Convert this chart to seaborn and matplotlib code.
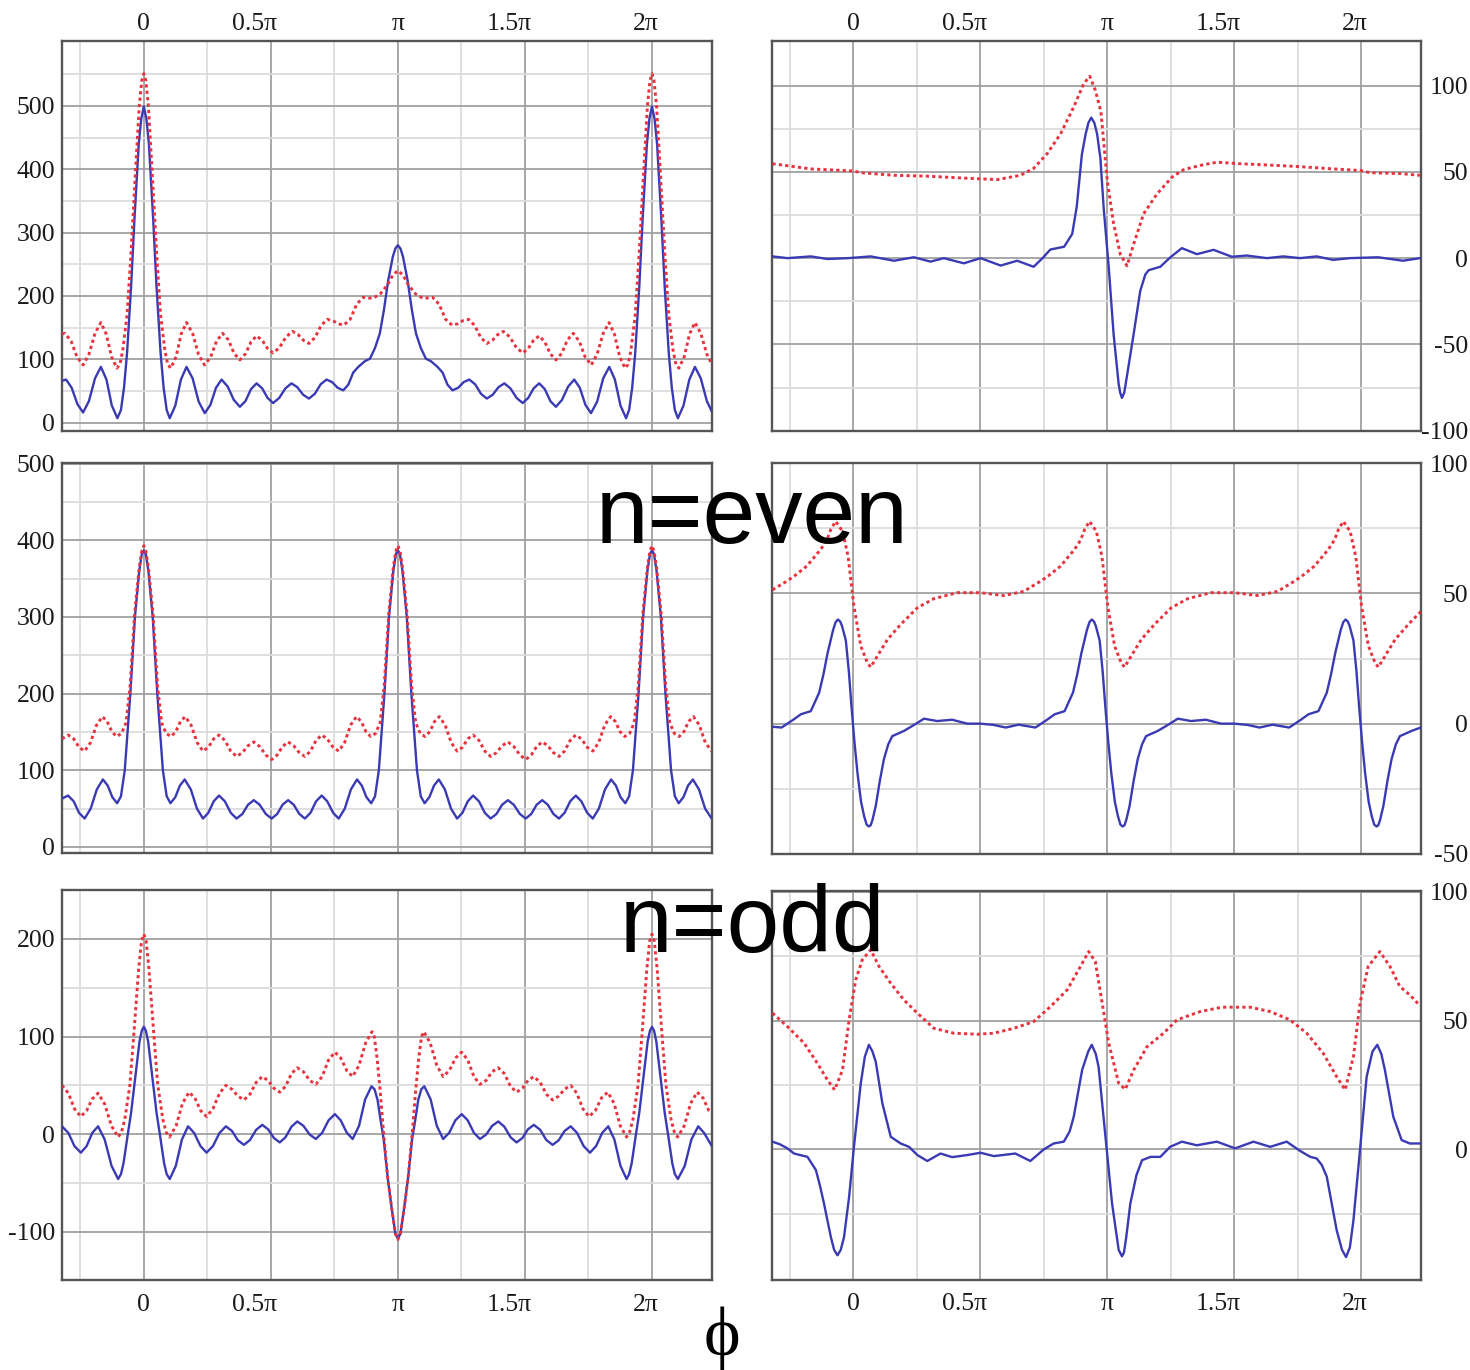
import matplotlib
matplotlib.use("Agg")
import matplotlib.pyplot as plt
import matplotlib.transforms as mtransforms
from matplotlib.ticker import FixedLocator
import seaborn as sns

# ---------------- data (x in units of pi, y values) ----------------
TL_BLUE = [(-0.322, 66), (-0.306, 68), (-0.284, 55), (-0.261, 29), (-0.239, 16), (-0.216, 34), (-0.192, 70),
           (-0.169, 88), (-0.147, 68), (-0.126, 27), (-0.104, 7), (-0.09, 20), (-0.078, 55), (-0.066, 110),
           (-0.05, 215), (-0.037, 320), (-0.02, 440), (-0.01, 480), (0.0, 499), (0.01, 480), (0.02, 440),
           (0.037, 320), (0.05, 215), (0.066, 110), (0.078, 55), (0.09, 20), (0.102, 7), (0.124, 27),
           (0.146, 68), (0.168, 88), (0.192, 70), (0.216, 33), (0.240, 15), (0.262, 28), (0.284, 55),
           (0.306, 68), (0.330, 57), (0.354, 36), (0.378, 25), (0.400, 34), (0.422, 53), (0.444, 62),
           (0.466, 54), (0.487, 39), (0.509, 31), (0.533, 39), (0.557, 54), (0.581, 62), (0.604, 56),
           (0.627, 44), (0.650, 38), (0.673, 45.5), (0.696, 60.5), (0.719, 68), (0.741, 64), (0.763, 55),
           (0.785, 51), (0.805, 60), (0.824, 79), (0.844, 88), (0.870, 97), (0.890, 101), (0.910, 118),
           (0.929, 141), (0.945, 178), (0.962, 225), (0.980, 262), (0.990, 275), (1.000, 280), (1.010, 275),
           (1.020, 262), (1.038, 225), (1.055, 178), (1.071, 141), (1.090, 118), (1.110, 101), (1.130, 97),
           (1.156, 88), (1.176, 79), (1.195, 60), (1.215, 51), (1.237, 55), (1.259, 64), (1.281, 68),
           (1.304, 60.5), (1.327, 45.5), (1.350, 38), (1.373, 44), (1.396, 56), (1.419, 62), (1.443, 54),
           (1.467, 39), (1.491, 31), (1.513, 39), (1.534, 54), (1.556, 62), (1.578, 53), (1.600, 34),
           (1.622, 25), (1.646, 36), (1.670, 57), (1.694, 68), (1.716, 55), (1.738, 28), (1.760, 15),
           (1.784, 33), (1.808, 70), (1.832, 88), (1.854, 68), (1.876, 27), (1.898, 7), (1.910, 20),
           (1.922, 55), (1.934, 110), (1.950, 215), (1.963, 320), (1.980, 440), (1.990, 480), (2.000, 499),
           (2.010, 480), (2.020, 440), (2.037, 320), (2.050, 215), (2.066, 110), (2.078, 55), (2.090, 20),
           (2.102, 7), (2.124, 27), (2.147, 68), (2.169, 88), (2.192, 70), (2.216, 34), (2.235, 18)]

TL_RED = [(-0.322, 140), (-0.310, 141), (-0.286, 128.5), (-0.263, 103.5), (-0.239, 91), (-0.216, 108),
          (-0.192, 141), (-0.169, 158), (-0.148, 140), (-0.127, 104), (-0.106, 86), (-0.094, 92),
          (-0.083, 114), (-0.066, 170), (-0.05, 270), (-0.035, 380), (-0.018, 500), (-0.008, 540),
          (0.0, 551), (0.008, 540), (0.018, 500), (0.035, 380), (0.05, 270), (0.066, 170), (0.083, 114),
          (0.094, 92), (0.106, 86), (0.127, 104), (0.147, 140), (0.168, 158), (0.192, 141), (0.215, 108),
          (0.239, 91), (0.263, 103.5), (0.286, 128.5), (0.310, 141), (0.333, 130.5), (0.355, 109.5),
          (0.378, 99), (0.400, 108.5), (0.422, 127.5), (0.444, 137), (0.466, 130), (0.487, 117),
          (0.509, 110), (0.534, 118.5), (0.560, 135.5), (0.585, 144), (0.607, 139), (0.628, 130),
          (0.650, 125), (0.674, 134.5), (0.698, 153.5), (0.722, 163), (0.744, 161), (0.765, 156),
          (0.787, 154), (0.812, 163), (0.838, 187), (0.864, 198), (0.900, 196), (0.930, 203), (0.960, 218),
          (0.980, 233), (1.000, 240), (1.020, 233), (1.040, 218), (1.070, 203), (1.100, 196), (1.136, 198),
          (1.162, 187), (1.188, 163), (1.213, 154), (1.235, 156), (1.256, 161), (1.278, 163),
          (1.302, 153.5), (1.326, 134.5), (1.350, 125), (1.372, 130), (1.393, 139), (1.415, 144),
          (1.440, 135.5), (1.466, 118.5), (1.491, 110), (1.513, 117), (1.534, 130), (1.556, 137),
          (1.578, 127.5), (1.600, 108.5), (1.622, 99), (1.645, 109.5), (1.667, 130.5), (1.690, 141),
          (1.714, 128.5), (1.737, 103.5), (1.761, 91), (1.784, 108), (1.808, 141), (1.831, 158),
          (1.852, 140), (1.873, 104), (1.894, 86), (1.906, 92), (1.917, 114), (1.934, 170), (1.950, 270),
          (1.965, 380), (1.982, 500), (1.992, 540), (2.000, 551), (2.008, 540), (2.018, 500), (2.035, 380),
          (2.050, 270), (2.066, 170), (2.083, 114), (2.094, 92), (2.106, 86), (2.127, 104), (2.148, 140),
          (2.169, 158), (2.192, 141), (2.216, 108), (2.235, 93)]

ML_BLUE = [(-0.322, 63), (-0.298, 67), (-0.276, 59.5), (-0.255, 44.5), (-0.233, 37), (-0.209, 50),
           (-0.185, 75), (-0.161, 88), (-0.142, 80), (-0.124, 65), (-0.105, 57), (-0.09, 66), (-0.075, 100),
           (-0.064, 150), (-0.053, 200), (-0.035, 300), (-0.018, 360), (-0.008, 382), (0.0, 387),
           (0.008, 382), (0.018, 360), (0.035, 300), (0.053, 200), (0.064, 150), (0.075, 100), (0.09, 66),
           (0.105, 57), (0.124, 65), (0.142, 80), (0.161, 88), (0.185, 75), (0.209, 50), (0.233, 37),
           (0.254, 44.5), (0.275, 59.5), (0.296, 67), (0.319, 59.5), (0.342, 44.5), (0.365, 37), (0.388, 43),
           (0.410, 55), (0.433, 61), (0.456, 55), (0.480, 43), (0.503, 37), (0.525, 43), (0.546, 55),
           (0.568, 61), (0.590, 55), (0.612, 43), (0.634, 37), (0.656, 44.5), (0.678, 59.5), (0.70, 67),
           (0.722, 59.5), (0.745, 44.5), (0.767, 37), (0.791, 50), (0.815, 75), (0.839, 88), (0.858, 80),
           (0.876, 65), (0.895, 57), (0.91, 66), (0.925, 100), (0.936, 150), (0.947, 200), (0.965, 300),
           (0.982, 360), (0.992, 382), (1.0, 387), (1.008, 382), (1.018, 360), (1.035, 300), (1.053, 200),
           (1.064, 150), (1.075, 100), (1.09, 66), (1.105, 57), (1.124, 65), (1.142, 80), (1.161, 88),
           (1.185, 75), (1.209, 50), (1.233, 37), (1.254, 44.5), (1.275, 59.5), (1.296, 67), (1.319, 59.5),
           (1.342, 44.5), (1.365, 37), (1.388, 43), (1.410, 55), (1.433, 61), (1.456, 55), (1.480, 43),
           (1.503, 37), (1.525, 43), (1.546, 55), (1.568, 61), (1.590, 55), (1.612, 43), (1.634, 37),
           (1.656, 44.5), (1.678, 59.5), (1.70, 67), (1.722, 59.5), (1.745, 44.5), (1.767, 37), (1.791, 50),
           (1.815, 75), (1.839, 88), (1.858, 80), (1.876, 65), (1.895, 57), (1.91, 66), (1.925, 100),
           (1.936, 150), (1.947, 200), (1.965, 300), (1.982, 360), (1.992, 382), (2.0, 387), (2.008, 382),
           (2.018, 360), (2.035, 300), (2.053, 200), (2.064, 150), (2.075, 100), (2.09, 66), (2.105, 57),
           (2.124, 65), (2.142, 80), (2.161, 88), (2.185, 75), (2.209, 50), (2.235, 37)]

ML_RED = [(-0.322, 141), (-0.298, 146), (-0.276, 141), (-0.255, 130), (-0.233, 125), (-0.210, 136),
          (-0.186, 159), (-0.163, 170), (-0.144, 163.5), (-0.126, 150.5), (-0.107, 144), (-0.088, 148),
          (-0.07, 162), (-0.054, 210), (-0.036, 305), (-0.018, 365), (-0.008, 386), (0.0, 393), (0.008, 386),
          (0.018, 365), (0.036, 305), (0.054, 210), (0.07, 162), (0.088, 148), (0.107, 144), (0.126, 150.5),
          (0.144, 163.5), (0.163, 170), (0.186, 159), (0.210, 136), (0.233, 125), (0.254, 130), (0.275, 141),
          (0.296, 146), (0.319, 139), (0.342, 125), (0.365, 118), (0.388, 123), (0.410, 132), (0.433, 137),
          (0.456, 131), (0.480, 120), (0.503, 114), (0.525, 120), (0.546, 131), (0.568, 137), (0.590, 132),
          (0.612, 123), (0.634, 118), (0.656, 125), (0.678, 139), (0.70, 146), (0.722, 141), (0.745, 130),
          (0.767, 125), (0.790, 136), (0.814, 159), (0.837, 170), (0.856, 163.5), (0.874, 150.5),
          (0.893, 144), (0.912, 148), (0.93, 162), (0.946, 210), (0.964, 305), (0.982, 365), (0.992, 386),
          (1.0, 393), (1.008, 386), (1.018, 365), (1.036, 305), (1.054, 210), (1.07, 162), (1.088, 148),
          (1.107, 144), (1.126, 150.5), (1.144, 163.5), (1.163, 170), (1.186, 159), (1.210, 136),
          (1.233, 125), (1.254, 130), (1.275, 141), (1.296, 146), (1.319, 139), (1.342, 125), (1.365, 118),
          (1.388, 123), (1.410, 132), (1.433, 137), (1.456, 131), (1.480, 120), (1.503, 114), (1.525, 120),
          (1.546, 131), (1.568, 137), (1.590, 132), (1.612, 123), (1.634, 118), (1.656, 125), (1.678, 139),
          (1.70, 146), (1.722, 141), (1.745, 130), (1.767, 125), (1.790, 136), (1.814, 159), (1.837, 170),
          (1.856, 163.5), (1.874, 150.5), (1.893, 144), (1.912, 148), (1.93, 162), (1.946, 210),
          (1.964, 305), (1.982, 365), (1.992, 386), (2.0, 393), (2.008, 386), (2.018, 365), (2.036, 305),
          (2.054, 210), (2.07, 162), (2.088, 148), (2.107, 144), (2.126, 150.5), (2.144, 163.5),
          (2.163, 170), (2.186, 159), (2.210, 136), (2.235, 125)]

BL_BLUE = [(-0.322, 8), (-0.297, 1.25), (-0.273, -12.25), (-0.248, -19), (-0.225, -12.25), (-0.203, 1.25),
           (-0.18, 8), (-0.154, -5.5), (-0.127, -32.5), (-0.101, -46), (-0.09, -41), (-0.08, -30),
           (-0.063, 0), (-0.05, 22), (-0.035, 55), (-0.017, 95), (-0.008, 106), (0.0, 110), (0.008, 106),
           (0.017, 95), (0.035, 55), (0.05, 22), (0.063, 0), (0.08, -30), (0.09, -41), (0.102, -46),
           (0.126, -32.5), (0.150, -5.5), (0.174, 8), (0.198, 1.25), (0.223, -12.25), (0.247, -19),
           (0.272, -12.25), (0.298, 1.25), (0.323, 8), (0.347, 3.25), (0.370, -6.25), (0.394, -11),
           (0.418, -6), (0.442, 4.4), (0.466, 9.5), (0.489, 5), (0.512, -4), (0.535, -8.5), (0.558, -3.1),
           (0.581, 7.6), (0.604, 13), (0.628, 8.5), (0.653, -0.5), (0.677, -5), (0.702, 1.4), (0.727, 14.1),
           (0.752, 20.5), (0.775, 14.1), (0.799, 1.4), (0.822, -5), (0.847, 8.5), (0.871, 35.5), (0.896, 49),
           (0.908, 46), (0.92, 35), (0.932, 14), (0.944, -5), (0.96, -45), (0.975, -75), (0.99, -102),
           (1.0, -107), (1.01, -102), (1.025, -75), (1.04, -45), (1.056, -5), (1.068, 14), (1.08, 35),
           (1.092, 46), (1.104, 49), (1.129, 35.5), (1.153, 8.5), (1.178, -5), (1.202, 1.4), (1.226, 14.1),
           (1.251, 20.5), (1.275, 14.1), (1.299, 1.4), (1.323, -5), (1.347, -0.5), (1.371, 8.5), (1.395, 13),
           (1.419, 7.6), (1.443, -3.1), (1.467, -8.5), (1.490, -4), (1.512, 5), (1.535, 9.5), (1.560, 4.4),
           (1.584, -6), (1.609, -11), (1.633, -6.25), (1.656, 3.25), (1.68, 8), (1.705, 1.25),
           (1.731, -12.25), (1.756, -19), (1.780, -12.25), (1.804, 1.25), (1.828, 8), (1.852, -5.5),
           (1.876, -32.5), (1.90, -46), (1.91, -41), (1.92, -30), (1.937, 0), (1.95, 22), (1.965, 55),
           (1.983, 95), (1.992, 106), (2.0, 110), (2.008, 106), (2.017, 95), (2.035, 55), (2.05, 22),
           (2.063, 0), (2.08, -30), (2.09, -41), (2.102, -46), (2.129, -32.5), (2.155, -5.5), (2.182, 8),
           (2.205, 1.25), (2.235, -12)]

BL_RED = [(-0.322, 50), (-0.297, 42), (-0.273, 26), (-0.248, 18), (-0.225, 24), (-0.203, 36), (-0.18, 42),
          (-0.154, 30.75), (-0.127, 8.25), (-0.101, -3), (-0.088, 2), (-0.075, 15), (-0.055, 50), (-0.04, 100),
          (-0.02, 170), (-0.009, 198), (0.0, 205), (0.009, 198), (0.02, 170), (0.04, 100), (0.055, 50),
          (0.075, 15), (0.088, 2), (0.101, -3), (0.127, 8.5), (0.152, 31.5), (0.178, 43), (0.201, 37),
          (0.224, 24), (0.247, 18), (0.272, 26), (0.298, 42), (0.323, 50), (0.347, 46), (0.370, 39),
          (0.394, 35), (0.418, 41), (0.442, 53), (0.466, 59), (0.489, 55), (0.512, 47), (0.535, 43),
          (0.558, 49), (0.581, 62), (0.604, 68), (0.628, 64), (0.653, 55), (0.677, 51), (0.702, 59),
          (0.727, 76), (0.752, 84), (0.775, 78), (0.799, 65), (0.822, 59), (0.847, 70.5), (0.873, 93.5),
          (0.898, 105), (0.907, 100), (0.918, 78), (0.93, 45), (0.944, 0), (0.96, -45), (0.975, -75),
          (0.99, -102), (1.0, -108), (1.01, -102), (1.025, -75), (1.04, -45), (1.056, 0), (1.07, 45),
          (1.082, 78), (1.093, 100), (1.102, 105), (1.127, 93.5), (1.153, 70.5), (1.178, 59), (1.202, 65),
          (1.227, 78), (1.251, 84), (1.275, 76), (1.299, 59), (1.323, 51), (1.347, 55), (1.371, 64),
          (1.395, 68), (1.419, 62), (1.443, 49), (1.467, 43), (1.490, 47), (1.512, 55), (1.535, 59),
          (1.560, 53), (1.584, 41), (1.609, 35), (1.633, 39), (1.656, 46), (1.68, 50), (1.704, 42),
          (1.728, 26), (1.752, 18), (1.777, 24), (1.801, 37), (1.826, 43), (1.851, 31.5), (1.875, 8.5),
          (1.90, -3), (1.912, 2), (1.925, 15), (1.945, 50), (1.96, 100), (1.98, 170), (1.991, 198),
          (2.0, 205), (2.009, 198), (2.02, 170), (2.04, 100), (2.055, 50), (2.075, 15), (2.088, 2),
          (2.101, -3), (2.127, 8.5), (2.152, 31.5), (2.178, 43), (2.201, 37), (2.224, 24), (2.235, 22)]

TR_BLUE = [(-0.319, 1), (-0.26, 0), (-0.168, 1), (-0.102, -0.5), (-0.02, 0), (0.068, 1), (0.16, -1.5),
           (0.238, 0.5), (0.304, -2), (0.356, 0), (0.435, -3), (0.501, 0), (0.58, -4.3), (0.645, -1.5),
           (0.71, -5), (0.745, 0), (0.776, 5), (0.83, 6.6), (0.862, 14), (0.88, 30), (0.9, 60),
           (0.915, 72), (0.926, 78.5), (0.937, 81.4), (0.949, 78.5), (0.96, 72), (0.973, 58), (0.986, 29),
           (1.006, -5.5), (1.025, -44), (1.045, -73), (1.051, -78), (1.058, -81), (1.067, -78),
           (1.078, -68), (1.104, -44), (1.13, -19), (1.15, -9.5), (1.163, -7), (1.209, -5), (1.248, 0.4),
           (1.294, 5.8), (1.353, 2.3), (1.419, 4.8), (1.491, 0.8), (1.55, 1.5), (1.629, 0), (1.694, 1),
           (1.76, 0), (1.825, 1), (1.89, -1), (1.956, 0), (2.067, 0.5), (2.165, -1.5), (2.232, 0)]

TR_RED = [(-0.319, 54.7), (-0.168, 51.7), (0.0, 50.5), (0.03, 49.5), (0.16, 48), (0.29, 47.5), (0.42, 46.5),
          (0.566, 45.5), (0.658, 48), (0.71, 52), (0.763, 60.5), (0.816, 72), (0.868, 87.6), (0.907, 101),
          (0.931, 105.4), (0.953, 97.3), (0.975, 85), (1.0, 45), (1.025, 20), (1.052, 2), (1.078, -4.5),
          (1.104, 8.1), (1.143, 25.6), (1.196, 37.2), (1.255, 46.9), (1.30, 51.2), (1.365, 53.7),
          (1.432, 55.6), (1.524, 54.7), (1.629, 54), (1.76, 53), (1.891, 51.7), (1.997, 50.8),
          (2.036, 49.5), (2.154, 49), (2.232, 48)]

MR_BLUE = [(-0.319, -1.2), (-0.283, -1.5), (-0.237, 1.5), (-0.207, 3.6), (-0.168, 4.8), (-0.135, 11.9),
           (-0.118, 19), (-0.102, 27), (-0.08, 36), (-0.07, 39), (-0.061, 40), (-0.052, 39.2), (-0.045, 37.5),
           (-0.03, 32), (-0.018, 20), (-0.008, 7), (0.004, -7), (0.016, -19), (0.03, -30), (0.042, -35.5),
           (0.052, -38.8), (0.061, -39.5), (0.068, -39), (0.075, -37), (0.088, -31.6), (0.104, -22),
           (0.12, -13.7), (0.137, -8), (0.153, -4.8), (0.199, -2.8), (0.232, -0.9), (0.278, 1.9), (0.33, 1),
           (0.389, 1.5), (0.448, 0), (0.5, 0), (0.553, -0.5), (0.60, -1.5), (0.651, -0.4), (0.717, -1.5),
           (0.763, 1.5), (0.793, 3.6), (0.832, 4.8), (0.865, 11.9), (0.882, 19), (0.898, 27), (0.92, 36),
           (0.93, 39), (0.939, 40), (0.948, 39.2), (0.955, 37.5), (0.97, 32), (0.982, 20), (0.992, 7),
           (1.004, -7), (1.016, -19), (1.03, -30), (1.042, -35.5), (1.052, -38.8), (1.061, -39.5),
           (1.068, -39), (1.075, -37), (1.088, -31.6), (1.104, -22), (1.12, -13.7), (1.137, -8),
           (1.153, -4.8), (1.199, -2.8), (1.232, -0.9), (1.278, 1.9), (1.33, 1), (1.389, 1.5), (1.448, 0),
           (1.5, 0), (1.553, -0.5), (1.60, -1.5), (1.651, -0.4), (1.717, -1.5), (1.763, 1.5), (1.793, 3.6),
           (1.832, 4.8), (1.865, 11.9), (1.882, 19), (1.898, 27), (1.92, 36), (1.93, 39), (1.939, 40),
           (1.948, 39.2), (1.955, 37.5), (1.97, 32), (1.982, 20), (1.992, 7), (2.004, -7), (2.016, -19),
           (2.03, -30), (2.042, -35.5), (2.052, -38.8), (2.061, -39.5), (2.068, -39), (2.075, -37),
           (2.088, -31.6), (2.104, -22), (2.12, -13.7), (2.137, -8), (2.153, -4.8), (2.199, -2.8),
           (2.235, -1.5)]

MR_RED = [(-0.319, 51.4), (-0.263, 54.7), (-0.234, 56.6), (-0.184, 60.5), (-0.129, 66.9), (-0.105, 70.5),
          (-0.089, 74.6), (-0.07, 77.7), (-0.043, 73.9), (-0.021, 64.3), (0.002, 45.1), (0.029, 29.8),
          (0.055, 23.4), (0.068, 21.7), (0.094, 25.9), (0.134, 32.3), (0.186, 38.1), (0.252, 44.5),
          (0.317, 48), (0.409, 50.3), (0.50, 50.3), (0.592, 49.2), (0.671, 50.8), (0.737, 54.7),
          (0.766, 56.6), (0.816, 60.5), (0.871, 66.9), (0.895, 70.5), (0.911, 74.6), (0.93, 77.7),
          (0.957, 73.9), (0.979, 64.3), (1.002, 45.1), (1.029, 29.8), (1.055, 23.4), (1.068, 21.7),
          (1.094, 25.9), (1.134, 32.3), (1.186, 38.1), (1.252, 44.5), (1.317, 48), (1.409, 50.3),
          (1.50, 50.3), (1.592, 49.2), (1.671, 50.8), (1.737, 54.7), (1.766, 56.6), (1.816, 60.5),
          (1.871, 66.9), (1.895, 70.5), (1.911, 74.6), (1.93, 77.7), (1.957, 73.9), (1.979, 64.3),
          (2.002, 45.1), (2.029, 29.8), (2.055, 23.4), (2.068, 21.7), (2.094, 25.9), (2.134, 32.3),
          (2.186, 38.1), (2.235, 43)]

BR_BLUE = [(-0.319, 3), (-0.29, 2), (-0.26, 0.4), (-0.234, -1.6), (-0.181, -2.9), (-0.148, -8), (-0.132, -14),
           (-0.116, -21), (-0.089, -34), (-0.076, -39), (-0.063, -41.1), (-0.05, -39), (-0.037, -34),
           (-0.017, -18.4), (0.002, 1), (0.029, 25.7), (0.045, 36), (0.061, 40.6), (0.075, 38), (0.088, 34),
           (0.114, 17.9), (0.147, 4.9), (0.186, 2.3), (0.219, 1), (0.252, -2.2), (0.291, -4.5),
           (0.343, -1.6), (0.389, -3), (0.448, -2.2), (0.501, -1.3), (0.553, -2.6), (0.638, -1.6),
           (0.697, -4.5), (0.75, 0), (0.789, 2.3), (0.829, 3), (0.852, 7), (0.868, 12.7), (0.901, 30.8),
           (0.925, 38), (0.939, 40.6), (0.955, 37), (0.966, 32), (0.993, 4.9), (1.019, -21), (1.045, -39),
           (1.058, -41.5), (1.066, -40), (1.075, -34), (1.091, -21), (1.115, -10), (1.137, -4.2),
           (1.17, -2.9), (1.209, -2.9), (1.248, 1), (1.294, 3), (1.353, 1.6), (1.432, 3), (1.504, 0.4),
           (1.576, 3), (1.642, 1), (1.707, 3), (1.76, -0.6), (1.80, -2.9), (1.825, -3.5), (1.845, -6),
           (1.865, -10.6), (1.904, -31.4), (1.925, -39), (1.941, -41.8), (1.956, -38), (1.97, -27.5),
           (1.996, 0), (2.022, 28.2), (2.045, 38), (2.064, 40.6), (2.08, 37), (2.094, 30.8), (2.127, 12.7),
           (2.16, 3.6), (2.192, 2.3), (2.235, 2.3)]

BR_RED = [(-0.319, 52.9), (-0.26, 47.7), (-0.194, 41.2), (-0.142, 33.4), (-0.102, 26.9), (-0.074, 23.1),
          (-0.043, 30.8), (-0.017, 50.3), (0.009, 65.8), (0.035, 73.6), (0.068, 77.5), (0.101, 71),
          (0.147, 64.5), (0.199, 58), (0.252, 52.9), (0.317, 47), (0.396, 45.1), (0.488, 44.7),
          (0.553, 45.1), (0.632, 47), (0.71, 49.6), (0.776, 55.4), (0.842, 61.9), (0.887, 69.7),
          (0.927, 76.8), (0.953, 72.9), (0.98, 56.8), (1.006, 41.2), (1.045, 25.7), (1.071, 23.3),
          (1.104, 30.8), (1.157, 39.9), (1.222, 45.1), (1.275, 50.3), (1.366, 53.5), (1.452, 55.2),
          (1.563, 55.2), (1.642, 53.5), (1.72, 50.3), (1.786, 45.1), (1.851, 37.3), (1.904, 28.2),
          (1.937, 23.1), (1.97, 36), (1.996, 56.8), (2.028, 71), (2.074, 76.8), (2.114, 71), (2.153, 63.2),
          (2.192, 60), (2.229, 56.1)]

X_TICKS = [0.0, 0.5, 1.0, 1.5, 2.0]
X_TICK_LABELS = ["0", "0.5π", "π", "1.5π", "2π"]
X_MINOR = [-0.25, 0.25, 0.75, 1.25, 1.75]

TL_YTICKS = [0, 100, 200, 300, 400, 500]
ML_YTICKS = [0, 100, 200, 300, 400, 500]
BL_YTICKS = [-100, 0, 100, 200]
TR_YTICKS = [-100, -50, 0, 50, 100]
MR_YTICKS = [-50, 0, 50, 100]
BR_YTICKS = [0, 50, 100]

# ---------------- style ----------------
sns.set_theme(style="white")
plt.rcParams["font.family"] = ["Liberation Serif", "DejaVu Serif"]

BLUE = "#3a3ab4"
RED = "#e8323e"
MAJOR_GRID = "#a0a0a0"
MINOR_GRID = "#dcdcdc"
SPINE = "#555555"
TICK_FS = 18.5

fig = plt.figure(figsize=(14.7, 13.7), dpi=100)

W, H = 1470.0, 1370.0
def rect(x0, y0, x1, y1):
    return [x0 / W, 1 - y1 / H, (x1 - x0) / W, (y1 - y0) / H]

panels = [
    ("TL", rect(62, 40.7, 711.7, 431.5), TL_BLUE, TL_RED, (-14, 603), TL_YTICKS,
     [50, 150, 250, 350, 450, 550], "left", "top"),
    ("TR", rect(771.7, 40.7, 1420.7, 430.7), TR_BLUE, TR_RED, (-100, 126), TR_YTICKS,
     [-75, -25, 25, 75], "right", "top"),
    ("ML", rect(62, 463.3, 711.7, 853.5), ML_BLUE, ML_RED, (-8.6, 500.5), ML_YTICKS,
     [50, 150, 250, 350, 450], "left", None),
    ("MR", rect(771.7, 463.3, 1420.7, 853.8), MR_BLUE, MR_RED, (-50, 100), MR_YTICKS,
     [-25, 25, 75], "right", None),
    ("BL", rect(62, 890, 711.7, 1280), BL_BLUE, BL_RED, (-149.5, 250.2), BL_YTICKS,
     [-50, 50, 150], "left", "bottom"),
    ("BR", rect(771.7, 890.5, 1420.7, 1279.5), BR_BLUE, BR_RED, (-50.5, 100.5), BR_YTICKS,
     [-25, 25, 75], "right", "bottom"),
]

LABEL_SHIFT_PX = [0, -16, 0, -16, -6]

for name, r, blue, red, ylim, yticks, yminor, side, xlab in panels:
    ax = fig.add_axes(r)
    ax.set_facecolor("white")
    ax.set_axisbelow(True)

    bx = [p[0] for p in blue]
    by = [p[1] for p in blue]
    rx = [p[0] for p in red]
    ry = [p[1] for p in red]
    sns.lineplot(x=bx, y=by, ax=ax, color=BLUE, linewidth=1.7, sort=False, estimator=None, zorder=3)
    sns.lineplot(x=rx, y=ry, ax=ax, color=RED, linewidth=2.1, sort=False, estimator=None,
                 linestyle=(0, (1.1, 1.1)), zorder=4)

    ax.set_xlim(-0.322, 2.235)
    ax.set_ylim(*ylim)
    ax.set_xlabel("")
    ax.set_ylabel("")

    ax.xaxis.set_major_locator(FixedLocator(X_TICKS))
    ax.xaxis.set_minor_locator(FixedLocator(X_MINOR))
    ax.yaxis.set_major_locator(FixedLocator(yticks))
    ax.yaxis.set_minor_locator(FixedLocator(yminor))
    ax.set_xticklabels(X_TICK_LABELS)
    ax.set_yticklabels([str(v) for v in yticks])

    ax.grid(which="major", color=MAJOR_GRID, linewidth=1.3)
    ax.grid(which="minor", color=MINOR_GRID, linewidth=1.3)

    for s in ax.spines.values():
        s.set_visible(True)
        s.set_color(SPINE)
        s.set_linewidth(1.7)

    ax.tick_params(which="both", length=0, labelsize=TICK_FS, colors="#1a1a1a")
    if xlab == "top":
        ax.tick_params(axis="x", top=False, bottom=False, labeltop=True, labelbottom=False, pad=4)
    elif xlab == "bottom":
        ax.tick_params(axis="x", top=False, bottom=False, labeltop=False, labelbottom=True, pad=10)
    else:
        ax.tick_params(axis="x", labeltop=False, labelbottom=False)

    if side == "left":
        ax.tick_params(axis="y", left=False, labelleft=True, labelright=False, pad=5)
    else:
        ax.tick_params(axis="y", right=False, left=False, labelleft=False, labelright=True, pad=34)
        for t in ax.yaxis.get_major_ticks():
            t.label2.set_horizontalalignment("right")

    for t, dx in zip(ax.xaxis.get_major_ticks(), LABEL_SHIFT_PX):
        off = mtransforms.ScaledTranslation(dx / 100.0, 0, fig.dpi_scale_trans)
        t.label1.set_transform(t.label1.get_transform() + off)
        t.label2.set_transform(t.label2.get_transform() + off)

fig.text(752 / W, 1 - 543 / H, "n=even", fontsize=68, family=["Liberation Sans", "DejaVu Sans"],
         ha="center", va="baseline", color="black", zorder=10)
fig.text(753 / W, 1 - 951.7 / H, "n=odd", fontsize=68, family=["Liberation Sans", "DejaVu Sans"],
         ha="center", va="baseline", color="black", zorder=10)
fig.text(722 / W, 1 - 1338 / H, "ϕ", fontsize=50, family=["Liberation Serif", "DejaVu Serif"],
         ha="center", va="center", color="black", zorder=10)

fig.savefig("out.png", dpi=100, facecolor="white")
